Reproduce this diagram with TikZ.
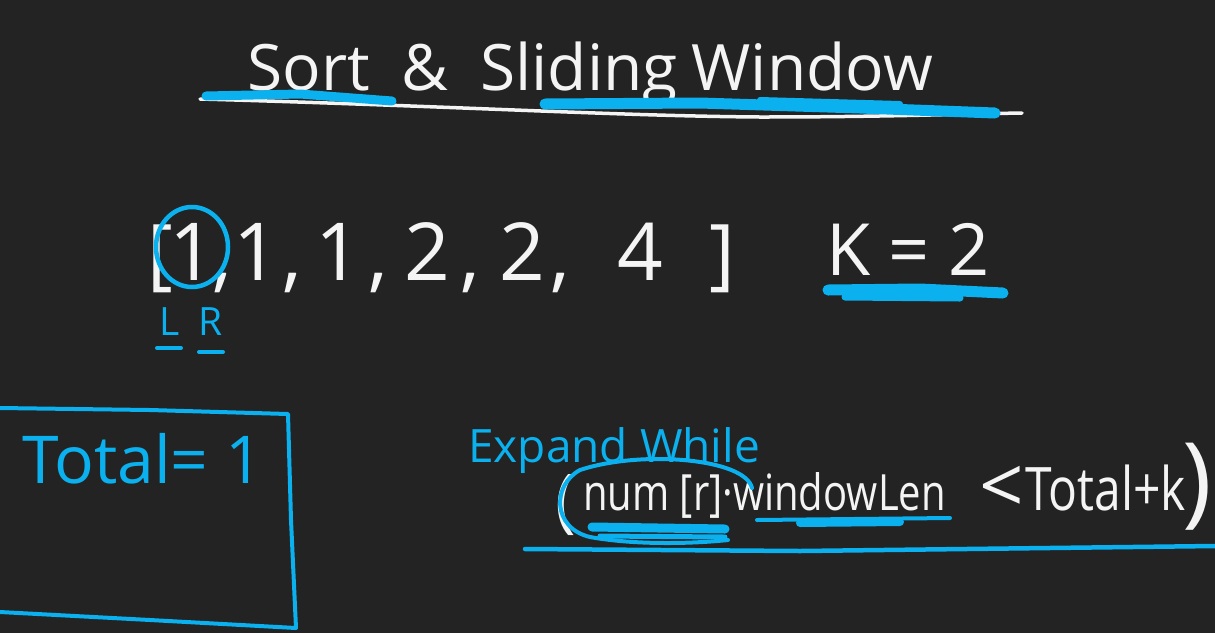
\documentclass[tikz,border=0pt]{standalone}
\usepackage{fontspec}
\setmainfont{Open Sans}
\newfontfamily\narrow[FakeStretch=0.8]{Open Sans}
\definecolor{bg}{HTML}{232323}
\definecolor{pen}{HTML}{F4F4F4}
\definecolor{ink}{HTML}{0BB0EE}
\newcommand{\fs}[1]{\fontsize{#1}{#1}\selectfont}
\begin{document}
\begin{tikzpicture}[x=1pt,y=-1pt,
  wtxt/.style={text=pen, inner sep=0pt, anchor=base},
  btxt/.style={text=ink, inner sep=0pt, anchor=base},
  hl/.style={draw=ink, line cap=round, line join=round},
  chalk/.style={draw=pen, line cap=round, line join=round}]
\fill[bg] (0,0) rectangle (1215,633);
\useasboundingbox (0,0) rectangle (1215,633);

% title
\draw[chalk, line width=3.5pt] (200,99) .. controls (450,106) and (620,116) .. (760,117) .. controls (880,117) and (960,114) .. (1022,113);
\node[wtxt, font=\fs{64}] (title) at (590,90) {Sort\hspace{32pt}\&\hspace{32pt}Sliding\hspace{14pt}Window};
\draw[hl, line width=9pt] (206,96) -- (300,94) -- (392,101);
\draw[hl, line width=11pt] (545,104) -- (700,103) -- (860,108) -- (995,113);
\draw[hl, line width=6pt] (760,100) -- (900,104);

% array
\node[wtxt, font=\fs{78}] (lb) at (160,280) {[};
\node[wtxt, font=\fs{80}] (a1) at (192,280) {1};
\node[wtxt, font=\fs{80}] (c1) at (222,282) {,};
\node[wtxt, font=\fs{80}] (a2) at (256,280) {1};
\node[wtxt, font=\fs{80}] (c2) at (292,282) {,};
\node[wtxt, font=\fs{80}] (a3) at (338,280) {1};
\node[wtxt, font=\fs{80}] (c3) at (378,282) {,};
\node[wtxt, font=\fs{80}] (a4) at (427,280) {2};
\node[wtxt, font=\fs{80}] (c4) at (470,282) {,};
\node[wtxt, font=\fs{80}] (a5) at (522,280) {2};
\node[wtxt, font=\fs{80}] (c5) at (560,282) {,};
\node[wtxt, font=\fs{80}] (a6) at (640,280) {4};
\node[wtxt, font=\fs{78}] (rb) at (722,280) {]};
\draw[ink, line width=4.5pt] (192,247) ellipse [x radius=36, y radius=40];

\node[wtxt, font=\fs{72}] (k) at (908,275) {K = 2};
\draw[hl, line width=11pt] (828,290) -- (920,289) -- (1003,293);
\draw[hl, line width=7pt] (845,297) -- (960,298);

\node[btxt, font=\fs{39}] (L) at (170,335) {L};
\node[btxt, font=\fs{39}] (R) at (211,335) {R};
\draw[hl, line width=4pt] (157,348) -- (181,348);
\draw[hl, line width=4pt] (199,352) -- (223,352);

% box
\draw[hl, line width=4pt] (0,408) -- (150,410) -- (288,414) -- (291,520) -- (296,628) -- (150,620) -- (0,612);
\node[btxt, font=\fs{66}, anchor=base west] (total) at (22,483) {Total= 1};

% condition
\node[btxt, font=\fs{46}, anchor=base west] (expand) at (468,462) {Expand While};
\node[wtxt, font=\fs{70}, anchor=center] (lp) at (566,505) {(};
\node[wtxt, font=\narrow\fs{50}, anchor=base west] (expr) at (583,510) {num [r]·windowLen};
\node[wtxt, font=\fs{78}, anchor=center] (lt) at (1002,490) {<};
\node[wtxt, font=\narrow\fs{60}, anchor=base west] (tk) at (1025,510) {Total+k};
\node[wtxt, font=\fs{100}, anchor=center] (rp) at (1197,487) {)};

\draw[hl, line width=4pt] (752,488) .. controls (745,458) and (640,450) .. (580,470) .. controls (552,485) and (552,528) .. (590,537) .. controls (640,546) and (700,543) .. (728,540);
\draw[hl, line width=9pt] (592,527) -- (725,529);
\draw[hl, line width=5pt] (600,536) -- (725,537);
\draw[hl, line width=4pt] (757,520) -- (950,518);
\draw[hl, line width=8pt] (800,523) -- (900,522);
\draw[hl, line width=4.5pt] (525,549) -- (800,551) -- (1215,546);
\end{tikzpicture}
\end{document}
